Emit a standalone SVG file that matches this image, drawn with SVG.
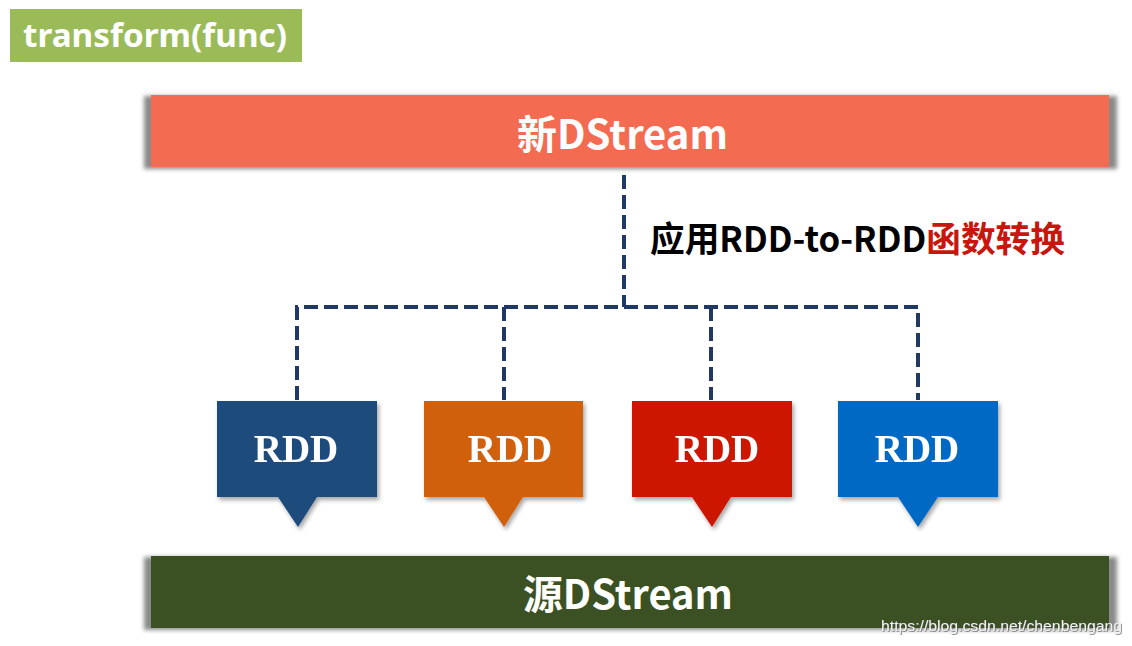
<svg xmlns="http://www.w3.org/2000/svg" width="1132" height="646" viewBox="0 0 1132 646">
  <style>
    .cjk { font-family: "Noto Sans CJK SC", "Noto Sans", sans-serif; font-weight: bold; }
    .bar-text { fill: #ffffff; font-size: 40px; }
    .rdd-text { font-family: "Liberation Serif", "Times New Roman", serif; font-weight: bold; font-size: 39px; fill: #ffffff; text-anchor: middle; }
    .dash { fill: none; stroke: #1f3864; stroke-width: 4; stroke-dasharray: 14 6; }
  </style>
  <defs>
    <filter id="blur" x="-5%" y="-20%" width="110%" height="140%">
      <feGaussianBlur stdDeviation="2"/>
    </filter>
    <filter id="shadow" x="-10%" y="-10%" width="130%" height="130%">
      <feDropShadow dx="2" dy="3" stdDeviation="2" flood-color="#000" flood-opacity="0.35"/>
    </filter>
    <filter id="wm" x="-5%" y="-20%" width="110%" height="150%">
      <feDropShadow dx="0.8" dy="0.8" stdDeviation="0.6" flood-color="#555" flood-opacity="0.8"/>
    </filter>
  </defs>
  <rect width="1132" height="646" fill="#ffffff"/>

  <g id="title">
    <rect x="10" y="9" width="292" height="53" fill="#9bbb59"/>
    <text x="23" y="47" font-family="Noto Sans, Open Sans, sans-serif" font-weight="bold" font-size="33" fill="#ffffff" textLength="264" lengthAdjust="spacingAndGlyphs">transform(func)</text>
  </g>

  <g id="connectors">
    <path class="dash" d="M624 175 V307"/>
    <path class="dash" d="M297 400 V307 H918 V400"/>
    <path class="dash" d="M504 307 V400"/>
    <path class="dash" d="M711 307 V400"/>
  </g>

  <g id="label">
    <text class="cjk" x="650" y="252" font-size="35" textLength="415" lengthAdjust="spacingAndGlyphs"><tspan fill="#000000">应用RDD-to-RDD</tspan><tspan fill="#c8160d">函数转换</tspan></text>
  </g>

  <g id="new-dstream">
    <rect x="144" y="96" width="973" height="73" fill="#8a8a8a" filter="url(#blur)"/>
    <rect x="151" y="95" width="958" height="72" fill="#f36c51"/>
    <text class="cjk bar-text" x="517" y="149" textLength="211" lengthAdjust="spacingAndGlyphs">新DStream</text>
  </g>

  <g id="rdd1" filter="url(#shadow)">
    <path d="M217 401 H377 V497 H317 L298 527 L278 497 H217 Z" fill="#1d4b7c"/>
    <text class="rdd-text" x="296" y="462">RDD</text>
  </g>
  <g id="rdd2" filter="url(#shadow)">
    <path d="M424 401 H583 V497 H523 L504 527 L484 497 H424 Z" fill="#d1600f"/>
    <text class="rdd-text" x="510" y="462">RDD</text>
  </g>
  <g id="rdd3" filter="url(#shadow)">
    <path d="M632 401 H792 V497 H731 L712 527 L692 497 H632 Z" fill="#cc1400"/>
    <text class="rdd-text" x="717" y="462">RDD</text>
  </g>
  <g id="rdd4" filter="url(#shadow)">
    <path d="M838 401 H998 V497 H938 L918 527 L898 497 H838 Z" fill="#0069c4"/>
    <text class="rdd-text" x="917" y="462">RDD</text>
  </g>

  <g id="source-dstream">
    <rect x="144" y="557" width="973" height="73" fill="#8a8a8a" filter="url(#blur)"/>
    <rect x="151" y="556" width="958" height="72" fill="#3b5123"/>
    <text class="cjk bar-text" x="523" y="609" textLength="210" lengthAdjust="spacingAndGlyphs">源DStream</text>
  </g>

  <g id="watermark">
    <text x="881" y="631" font-family="Liberation Sans, Arial, sans-serif" font-size="15.5" fill="#f2f2f2" filter="url(#wm)" textLength="241" lengthAdjust="spacingAndGlyphs">https://blog.csdn.net/chenbengang</text>
  </g>
</svg>
